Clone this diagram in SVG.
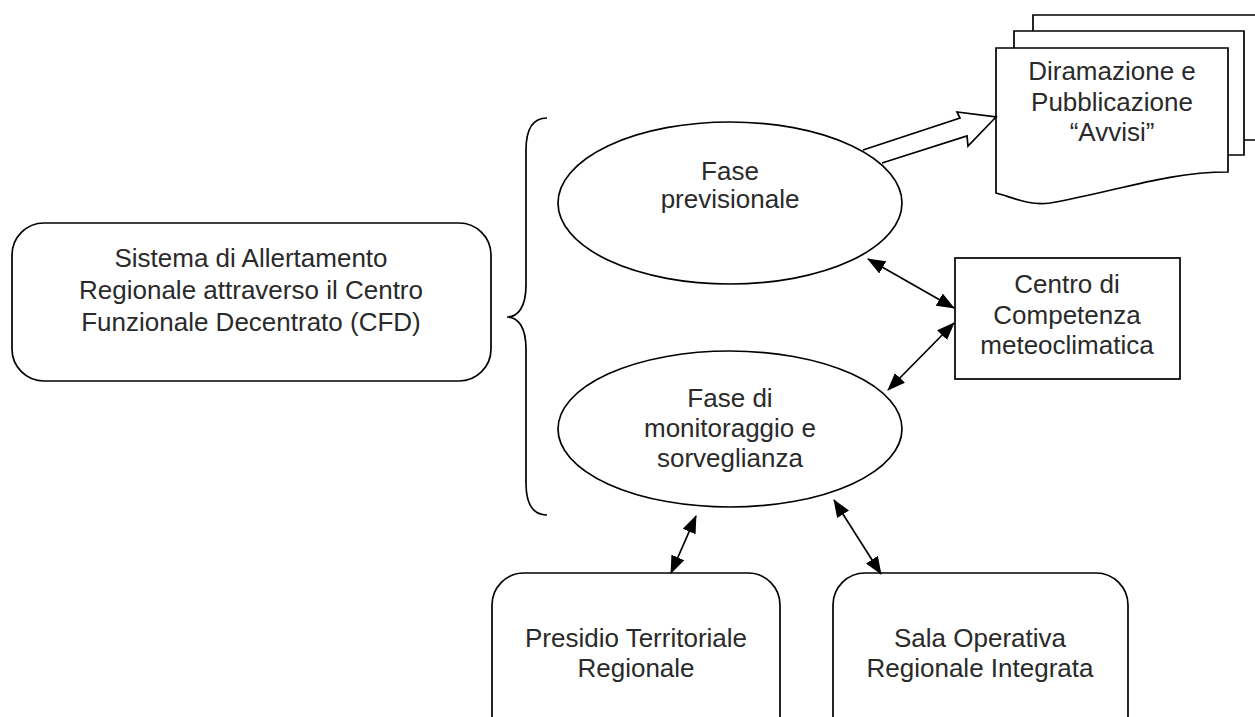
<svg xmlns="http://www.w3.org/2000/svg" width="1255" height="717" viewBox="0 0 1255 717">
<defs>
<style>
.s{fill:#fff;stroke:#000;stroke-width:1.7}
.t{font-family:"Liberation Sans",Arial,sans-serif;font-size:26px;fill:#2a2a2a;text-anchor:middle}
.c{stroke:#000;stroke-width:1.7;fill:none;marker-start:url(#ah);marker-end:url(#ah)}
</style>
<marker id="ah" markerUnits="userSpaceOnUse" markerWidth="18" markerHeight="14" refX="17" refY="7" orient="auto-start-reverse" viewBox="0 0 18 14">
<path d="M0,0 L18,7 L0,14 Z" fill="#000"/>
</marker>
</defs>
<rect width="1255" height="717" fill="#fff"/>

<g id="diramazione">
<path class="s" d="M1033,140 V15 H1262 V140 Z"/>
<path class="s" d="M1014,155 V31 H1244 V155 Z"/>
<path class="s" d="M996,193 V48 H1228 V172 C1165,172 1115,192 1050,203 C1028,206 1012,197 996,193 Z"/>
<text class="t" x="1112" y="80">Diramazione e</text>
<text class="t" x="1112" y="111">Pubblicazione</text>
<text class="t" x="1112" y="141">“Avvisi”</text>
</g>

<g id="block-arrow">
<path class="s" d="M863,150 L960,118 L957,112 L996,117 L968,146 L967,136 L882,163"/>
</g>

<g id="sistema">
<rect class="s" x="12" y="223" width="479" height="158" rx="32" ry="32"/>
<text class="t" x="251" y="267">Sistema di Allertamento</text>
<text class="t" x="251" y="299">Regionale attraverso il Centro</text>
<text class="t" x="251" y="331">Funzionale Decentrato (CFD)</text>
</g>

<g id="brace">
<path d="M547,118 C533,118 526,128 526,150 V285 C526,307 518,317 507,317 C518,317 526,327 526,349 V483 C526,505 533,515 547,515" fill="none" stroke="#000" stroke-width="1.7"/>
</g>

<g id="fase-previsionale">
<ellipse class="s" cx="730" cy="203" rx="172" ry="81"/>
<text class="t" x="730" y="180">Fase</text>
<text class="t" x="730" y="208">previsionale</text>
</g>

<g id="fase-monitoraggio">
<ellipse class="s" cx="730" cy="429" rx="172" ry="78"/>
<text class="t" x="730" y="407">Fase di</text>
<text class="t" x="730" y="437">monitoraggio e</text>
<text class="t" x="730" y="467">sorveglianza</text>
</g>

<g id="centro">
<rect class="s" x="955" y="258" width="225" height="121"/>
<text class="t" x="1067" y="293">Centro di</text>
<text class="t" x="1067" y="324">Competenza</text>
<text class="t" x="1067" y="354">meteoclimatica</text>
</g>

<g id="presidio">
<rect class="s" x="492" y="573" width="288" height="190" rx="32" ry="32"/>
<text class="t" x="636" y="647">Presidio Territoriale</text>
<text class="t" x="636" y="677">Regionale</text>
</g>

<g id="sala">
<rect class="s" x="833" y="573" width="295" height="190" rx="32" ry="32"/>
<text class="t" x="980" y="647">Sala Operativa</text>
<text class="t" x="980" y="677">Regionale Integrata</text>
</g>

<g id="connectors">
<line class="c" x1="868" y1="259" x2="954" y2="308"/>
<line class="c" x1="954" y1="323" x2="888" y2="390"/>
<line class="c" x1="696" y1="516" x2="671" y2="573"/>
<line class="c" x1="834" y1="500" x2="881" y2="574"/>
</g>
</svg>
